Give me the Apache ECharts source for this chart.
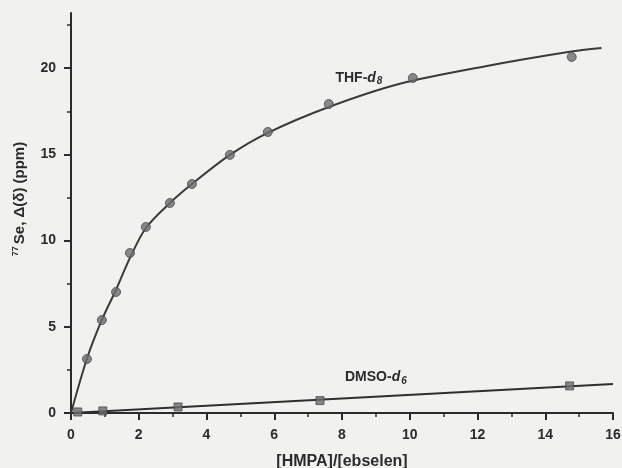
<!DOCTYPE html>
<html>
<head>
<meta charset="utf-8">
<script src="https://cdn.jsdelivr.net/npm/echarts@6/dist/echarts.min.js"></script>
<style>
html,body{margin:0;padding:0;background:#f1f1ef;}
#chart{width:622px;height:468px;}
</style>
</head>
<body>
<div id="chart"></div>
<script>
// THF-d8 measured points [ratio, shift]
const thfPoints = [
  [0.47, 3.13], [0.91, 5.39], [1.33, 7.02], [1.74, 9.28], [2.21, 10.79],
  [2.92, 12.18], [3.57, 13.28], [4.69, 14.97], [5.81, 16.30], [7.61, 17.92],
  [10.09, 19.43], [14.78, 20.65]
];
// THF-d8 fitted curve
const thfCurve = [
  [0, 0], [0.47, 3.15], [0.91, 5.4], [1.33, 7.15], [1.74, 9.0], [2.21, 10.73],
  [2.92, 12.18], [3.57, 13.28], [4.69, 14.97], [5.81, 16.25], [7.61, 17.75],
  [9.71, 19.1], [12.2, 20.1], [14.72, 20.95], [15.66, 21.17]
];
// DMSO-d6 measured points
const dmsoPoints = [
  [0.2, 0.06], [0.94, 0.12], [3.16, 0.35], [7.35, 0.72], [14.72, 1.57]
];
// DMSO-d6 fitted line
const dmsoCurve = [[0, 0], [16, 1.68]];

const xTickValues = [0, 2, 4, 6, 8, 10, 12, 14, 16];
const yTickValues = [0, 5, 10, 15, 20];
const yMinorTickValues = [2.5, 7.5, 12.5, 17.5, 22.5];

const labelTHF = { coord: [8.5, 19.45], text: '{b|THF-}{i|d}{s|8}' };
const labelDMSO = { coord: [9.0, 2.1], text: '{b|DMSO-}{i|d}{s|6}' };

const ink = '#2b2b2b';
const font = '"Liberation Sans", Arial, sans-serif';
const richStyle = {
  b: { fontFamily: font, fontWeight: 'bold', fontSize: 14, color: ink },
  i: { fontFamily: font, fontWeight: 'bold', fontStyle: 'italic', fontSize: 14, color: ink },
  s: { fontFamily: font, fontWeight: 'bold', fontStyle: 'italic', fontSize: 10, color: ink, padding: [8, 0, 0, 1] }
};

const chart = echarts.init(document.getElementById('chart'));
chart.setOption({
  backgroundColor: '#f1f1ef',
  animation: false,
  grid: { left: 71, right: 9, top: 13, bottom: 55, containLabel: false, outerBoundsMode: 'none' },
  xAxis: {
    type: 'value', min: 0, max: 16, interval: 2,
    name: '[HMPA]/[ebselen]', nameLocation: 'middle', nameGap: 41,
    nameTextStyle: { fontFamily: font, fontWeight: 'bold', fontSize: 16, color: ink },
    axisLine: { show: true, onZero: false, lineStyle: { color: ink, width: 2 } },
    axisTick: { show: true, inside: false, length: 7, lineStyle: { color: ink, width: 2 }, customValues: xTickValues },
    minorTick: { show: true, splitNumber: 2, length: 4, lineStyle: { color: ink, width: 1.5 } },
    axisLabel: { fontFamily: font, fontWeight: 'bold', fontSize: 14, color: ink, margin: 15, customValues: xTickValues },
    splitLine: { show: false }, minorSplitLine: { show: false }
  },
  yAxis: [{
    type: 'value', min: 0, max: 23.2,
    name: '{sup|77}{b|Se, Δ(δ) (ppm)}', nameLocation: 'middle', nameGap: 42, nameRotate: 90,
    nameTextStyle: {
      fontFamily: font, fontWeight: 'bold', fontSize: 15, color: ink, padding: [0, 0, 0, 28],
      rich: {
        sup: { fontFamily: font, fontWeight: 'bold', fontSize: 9, color: ink, padding: [0, 2, 9, 0] },
        b: { fontFamily: font, fontWeight: 'bold', fontSize: 15, color: ink }
      }
    },
    axisLine: { show: true, onZero: false, lineStyle: { color: ink, width: 2 } },
    axisTick: { show: true, inside: false, length: 7, lineStyle: { color: ink, width: 2 }, customValues: yTickValues },
    axisLabel: { fontFamily: font, fontWeight: 'bold', fontSize: 14, color: ink, margin: 15, customValues: yTickValues },
    splitLine: { show: false }
  }, {
    type: 'value', min: 0, max: 23.2, position: 'left',
    axisLine: { show: false },
    axisTick: { show: true, inside: false, length: 4, lineStyle: { color: ink, width: 1.5 }, customValues: yMinorTickValues },
    axisLabel: { show: false },
    splitLine: { show: false }
  }],
  series: [
    {
      type: 'line', data: thfCurve, smooth: 0.3, showSymbol: false, symbol: 'none',
      lineStyle: { color: '#3a3a3a', width: 2 }, z: 2,
      markPoint: {
        symbol: 'rect', symbolSize: 0, silent: true,
        label: { show: true, position: 'inside', formatter: labelTHF.text, rich: richStyle },
        data: [{ coord: labelTHF.coord }]
      }
    },
    {
      type: 'scatter', data: thfPoints, symbol: 'circle', symbolSize: 9,
      itemStyle: { color: '#6d6d6d', borderColor: '#4a4a4a', borderWidth: 1 }, z: 3
    },
    {
      type: 'line', data: dmsoCurve, showSymbol: false, symbol: 'none',
      lineStyle: { color: '#2f2f2f', width: 2 }, z: 2,
      markPoint: {
        symbol: 'rect', symbolSize: 0, silent: true,
        label: { show: true, position: 'inside', formatter: labelDMSO.text, rich: richStyle },
        data: [{ coord: labelDMSO.coord }]
      }
    },
    {
      type: 'scatter', data: dmsoPoints, symbol: 'rect', symbolSize: 8,
      itemStyle: { color: '#6d6d6d', borderColor: '#4a4a4a', borderWidth: 1 }, z: 3
    }
  ]
});
</script>
</body>
</html>
